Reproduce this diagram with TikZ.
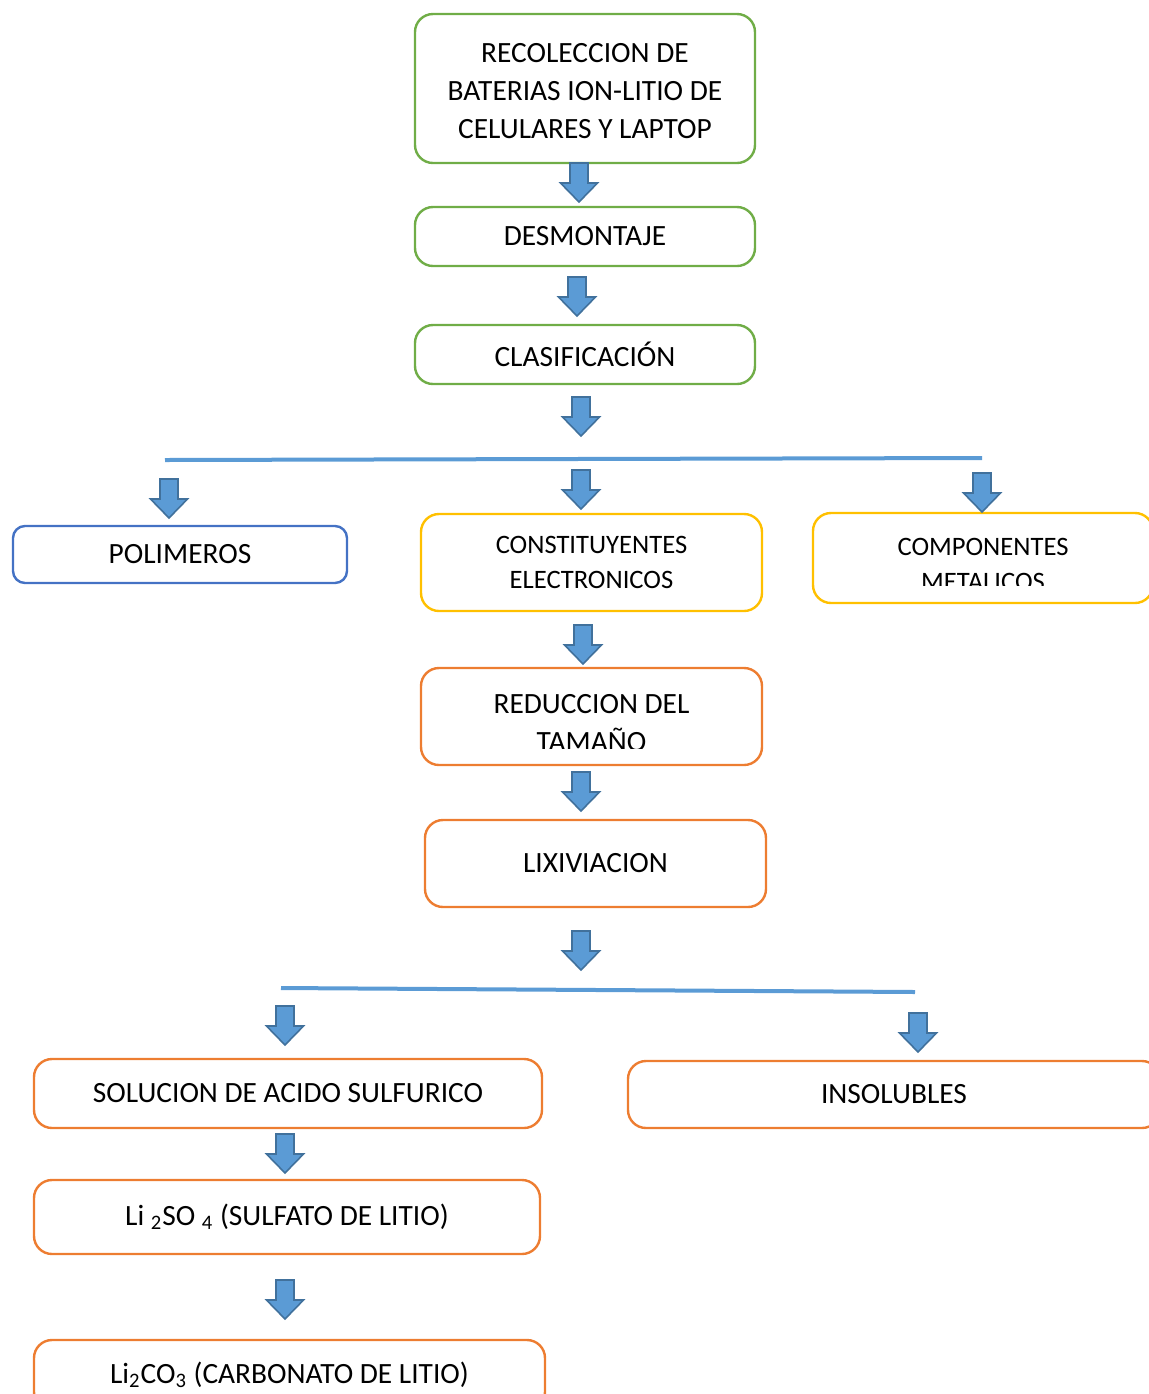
\documentclass[tikz,border=0pt]{standalone}
\usepackage{fontspec}
\setmainfont{Carlito}
\usetikzlibrary{shapes,calc,positioning}
\definecolor{stepgreen}{HTML}{70AD47}
\definecolor{stepblue}{HTML}{4472C4}
\definecolor{stepyellow}{HTML}{FFC000}
\definecolor{steporange}{HTML}{ED7D31}
\definecolor{arrowfill}{HTML}{5B9BD5}
\definecolor{arrowedge}{HTML}{41719C}

\begin{document}
\begin{tikzpicture}
	[x=0.5pt,y=-0.5pt,
	every node/.style={shape=rectangle,rounded corners=9pt,line width=1.2pt,inner sep=0pt,
		align=center,font=\fontsize{14.7}{19}\selectfont},
	greenbox/.style={draw=stepgreen,minimum width=170pt},
	bluebox/.style={draw=stepblue,rounded corners=6pt},
	yellowbox/.style={draw=stepyellow,font=\fontsize{13.3}{17.5}\selectfont},
	orangebox/.style={draw=steporange},
	smalltext/.style={font=\fontsize{13.3}{17.5}\selectfont},
	hline/.style={draw=arrowfill,line width=2pt},
	blockarrow/.style={fill=arrowfill,draw=arrowedge,line width=0.8pt,line join=miter}]
	\path[use as bounding box,clip] (0,0) rectangle (1149,1394);

	\node[greenbox,minimum height=74.5pt] (recol) at (585,88.5) {};
	\node (recoltext) at (585,91)
		{RECOLECCION DE\\BATERIAS ION-LITIO DE\\CELULARES Y LAPTOP};
	\node[greenbox,minimum height=29.5pt] (desmo) at (585,236.5) {DESMONTAJE};
	\node[greenbox,minimum height=29.5pt] (clasif) at (585,354.5) {CLASIFICACIÓN};

	\node[bluebox,minimum width=167pt,minimum height=28.5pt] (polim) at (180,554.5) {POLIMEROS};
	\node[yellowbox,minimum width=170.5pt,minimum height=48.5pt] (const) at (591.5,562.5)
		{CONSTITUYENTES\\ELECTRONICOS};
	\node[yellowbox,minimum width=170pt,minimum height=45pt] (metal) at (983,558) {};
	\begin{scope}
		\clip (813,513) rectangle (1149,585);
		\node[smalltext] (metaltext) at (983,564) {COMPONENTES\\METALICOS};
	\end{scope}

	\node[orangebox,minimum width=170.5pt,minimum height=48.5pt] (reduc) at (591.5,716.5) {};
	\begin{scope}
		\clip (421,668) rectangle (762,748);
		\node (reductext) at (591.5,723) {REDUCCION DEL\\TAMAÑO};
	\end{scope}
	\node[orangebox,minimum width=170.5pt,minimum height=43.5pt] (lixiv) at (595.5,863.5) {LIXIVIACION};

	\node[orangebox,minimum width=254pt,minimum height=34.5pt] (soluc) at (288,1093.5)
		{SOLUCION DE ACIDO SULFURICO};
	\node[orangebox,minimum width=266pt,minimum height=33.5pt] (insol) at (894,1094.5) {INSOLUBLES};
	\node[orangebox,minimum width=253pt,minimum height=37pt] (sulf) at (287,1217)
		{Li \textsubscript{2}SO \textsubscript{4} (SULFATO DE LITIO)};
	\node[orangebox,minimum width=255.5pt,minimum height=35pt] (carb) at (289.5,1375)
		{Li\textsubscript{2}CO\textsubscript{3} (CARBONATO DE LITIO)};

	\coordinate (splitA) at (165,460);
	\coordinate (splitB) at (982,458);
	\coordinate (splitC) at (281,988);
	\coordinate (splitD) at (915,992);
	\draw[hline] (splitA) -- (splitB);
	\draw[hline] (splitC) -- (splitD);

	\foreach \ax/\ay in {579/163,577/277,581/397,169/479,581/470,982/473,583/625,
		581/772,581/931,285/1006,918/1013,285/1134,285/1280}{
		\draw[blockarrow] (\ax-9,\ay) -- (\ax+9,\ay) -- (\ax+9,\ay+20) -- (\ax+18.5,\ay+20)
			-- (\ax,\ay+39) -- (\ax-18.5,\ay+20) -- (\ax-9,\ay+20) -- cycle;
	}
\end{tikzpicture}
\end{document}
